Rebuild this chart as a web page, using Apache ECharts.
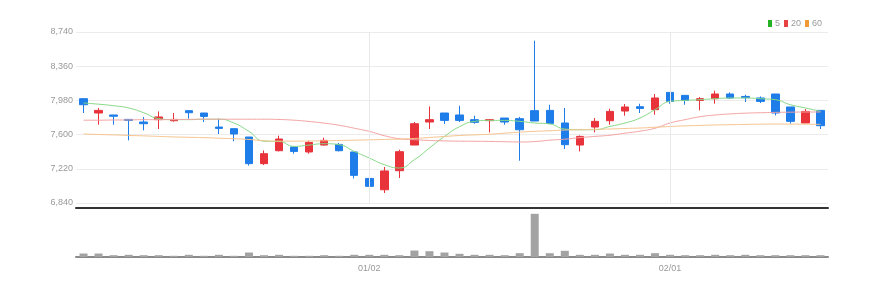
<!DOCTYPE html>
<html><head><meta charset="utf-8">
<script src="https://cdn.jsdelivr.net/npm/echarts@6/dist/echarts.min.js"></script>
<style>html,body{margin:0;padding:0;background:#fff}#c{width:884px;height:289px}</style>
</head><body><div id="c"></div><script>
var dates = ['12/05','12/06','12/07','12/08','12/09','12/12','12/13','12/14','12/15','12/16','12/19','12/20','12/21','12/22','12/23','12/26','12/27','12/28','12/29',
'01/02','01/03','01/04','01/05','01/06','01/09','01/10','01/11','01/12','01/13','01/16','01/17','01/18','01/19','01/20','01/25','01/26','01/27','01/30','01/31',
'02/01','02/02','02/03','02/06','02/07','02/08','02/09','02/10','02/13','02/14','02/15'];
var tickLabels = ['01/02','02/01'];
var yTicks = [6840, 7220, 7600, 7980, 8360, 8740];
var opens  = [7999,7840,7818,7769,7740,7766,7754,7866,7840,7684,7666,7573,7277,7421,7462,7407,7484,7491,7407,7113,6987,7199,7484,7740,7840,7818,7766,7755,7784,7777,7866,7869,7729,7484,7684,7754,7862,7910,7877,8069,8036,7980,7999,8051,8024,8007,8051,7907,7729,7869];
var closes = [7932,7869,7804,7758,7721,7796,7769,7843,7802,7669,7607,7277,7388,7551,7413,7513,7536,7421,7147,7025,7196,7410,7721,7766,7758,7758,7736,7766,7740,7654,7751,7725,7488,7580,7747,7858,7907,7891,8007,7969,7980,7999,8051,8007,8010,7969,7840,7747,7858,7699];
var lows   = [7840,7710,7710,7536,7647,7662,7743,7777,7740,7607,7525,7255,7262,7413,7388,7388,7477,7413,7113,6988,6951,7118,7484,7662,7718,7740,7721,7624,7710,7310,7751,7718,7440,7413,7624,7710,7810,7840,7821,7943,7932,7869,7943,7999,7962,7951,7813,7721,7729,7662];
var highs  = [8000,7896,7818,7769,7796,7858,7840,7866,7840,7777,7666,7573,7424,7588,7462,7532,7566,7507,7407,7240,7240,7432,7740,7913,7840,7921,7810,7770,7784,7796,8643,7932,7896,7590,7784,7888,7940,7943,8051,8069,8036,8017,8088,8069,8043,8024,8051,7907,7884,7869];
var volumes = [87000,87000,45000,55000,45000,45000,30000,55000,30000,55000,30000,112000,45000,55000,30000,30000,45000,30000,55000,55000,55000,45000,162000,145000,112000,80000,55000,55000,45000,95000,1080000,95000,155000,55000,55000,87000,55000,55000,95000,55000,45000,45000,55000,45000,55000,45000,45000,45000,45000,45000];
var ma5  = [7951,7938,7921,7896,7843,7777,7766,7766,7771,7771,7729,7636,7527,7524,7469,7484,7499,7488,7413,7340,7266,7229,7321,7451,7580,7688,7747,7758,7758,7747,7729,7718,7662,7654,7654,7691,7729,7784,7877,7969,7980,7988,7999,8007,8007,7999,7988,7932,7896,7858];
var ma20 = [7760,7760,7762,7763,7766,7766,7768,7769,7771,7771,7771,7771,7771,7768,7760,7746,7727,7704,7671,7636,7588,7554,7543,7535,7530,7527,7526,7524,7521,7518,7523,7538,7549,7566,7580,7593,7616,7638,7671,7729,7766,7799,7818,7830,7838,7843,7847,7849,7851,7851];
var ma60 = [7607,7601,7597,7591,7586,7580,7574,7570,7566,7560,7554,7546,7532,7527,7527,7529,7531,7535,7538,7542,7546,7550,7557,7568,7579,7590,7597,7604,7616,7627,7636,7643,7651,7654,7659,7662,7668,7673,7682,7690,7697,7702,7707,7710,7713,7716,7717,7717,7716,7714];

var FONT = '"Liberation Sans Narrow","Liberation Sans",sans-serif';
var showTick = function (i, v) { return tickLabels.indexOf(v) >= 0; };
var candle = opens.map(function (o, i) { return [o, closes[i], lows[i], highs[i]]; });
var UP = '#e8333b', DOWN = '#1e7de8';

var chart = echarts.init(document.getElementById('c'), null, {renderer: 'canvas'});
chart.setOption({
  animation: false,
  backgroundColor: '#fff',
  legend: {
    right: 57, top: 14, itemWidth: 4, itemHeight: 7, itemGap: 4, icon: 'rect',
    textStyle: {fontSize: 9, color: '#999', fontFamily: FONT, padding: [0, 0, 0, -2]},
    data: [{name: '5', itemStyle: {color: '#25b025'}}, {name: '20', itemStyle: {color: '#e84343'}}, {name: '60', itemStyle: {color: '#f09a35'}}]
  },
  grid: [
    {left: 76, right: 56, top: 32, height: 171},
    {left: 76, right: 56, top: 208, height: 49}
  ],
  xAxis: [
    {type: 'category', gridIndex: 0, data: dates, axisLine: {show: false}, axisTick: {show: false}, axisLabel: {show: false}, splitLine: {show: false}},
    {type: 'category', gridIndex: 1, data: dates, position: 'bottom',
      axisLine: {lineStyle: {color: '#8a8a8a', width: 2}},
      axisTick: {alignWithLabel: true, interval: showTick, length: 5, lineStyle: {color: '#555'}},
      axisLabel: {interval: showTick, color: '#999', fontSize: 9, fontFamily: FONT, margin: 7},
      splitLine: {show: false}},
    {type: 'category', gridIndex: 1, data: dates, position: 'top',
      axisLine: {lineStyle: {color: '#333', width: 2}}, axisTick: {show: false}, axisLabel: {show: false}, splitLine: {show: false}}
  ],
  yAxis: [
    {type: 'value', gridIndex: 0, min: yTicks[0], max: yTicks[yTicks.length - 1], interval: yTicks[1] - yTicks[0],
      axisLine: {show: false}, axisTick: {show: false},
      axisLabel: {color: '#999', fontSize: 9, fontFamily: FONT, margin: 3, formatter: function (v) { return v.toLocaleString('en-US'); }},
      splitLine: {lineStyle: {color: '#ececec'}}},
    {type: 'value', gridIndex: 1, min: 0, max: 1225000, show: false, splitLine: {show: false}}
  ],
  series: [
    {type: 'candlestick', name: 'price', xAxisIndex: 0, yAxisIndex: 0, data: candle, barWidth: 8,
      itemStyle: {color: UP, color0: DOWN, borderColor: UP, borderColor0: DOWN, borderWidth: 1},
      markLine: {silent: true, symbol: 'none', label: {show: false},
        lineStyle: {color: '#e8e8e8', type: 'solid', width: 1},
        data: tickLabels.map(function (t) { return {xAxis: t}; })}
    },
    {type: 'line', name: '5', xAxisIndex: 0, yAxisIndex: 0, data: ma5, showSymbol: false, smooth: true, lineStyle: {width: 1, color: '#86d886'}, itemStyle: {color: '#86d886'}},
    {type: 'line', name: '20', xAxisIndex: 0, yAxisIndex: 0, data: ma20, showSymbol: false, smooth: true, lineStyle: {width: 1, color: '#f4a2a2'}, itemStyle: {color: '#f4a2a2'}},
    {type: 'line', name: '60', xAxisIndex: 0, yAxisIndex: 0, data: ma60, showSymbol: false, smooth: true, lineStyle: {width: 1, color: '#f6c38c'}, itemStyle: {color: '#f6c38c'}},
    {type: 'bar', name: 'volume', xAxisIndex: 1, yAxisIndex: 1, data: volumes, barWidth: 8, itemStyle: {color: '#a3a3a3'}}
  ]
});
</script></body></html>
